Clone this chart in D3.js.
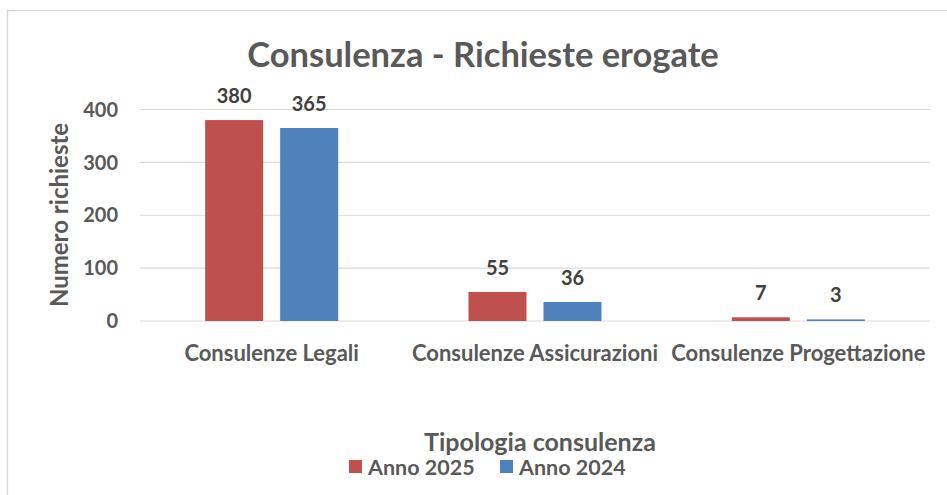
<!DOCTYPE html>
<html lang="it">
<head>
<meta charset="UTF-8">
<title>Consulenza - Richieste erogate</title>
<script src="https://d3js.org/d3.v7.min.js"></script>
<style>
    body { margin: 0; padding: 0; background: #fff; overflow: hidden; }
    text { font-family: Lato, "Open Sans", sans-serif; fill: #595959; }
</style>
</head>
<body>
<script>
    // dati
    const categories = ["Consulenze Legali", "Consulenze Assicurazioni", "Consulenze Progettazione"];
    const seriesNames = ["Anno 2025", "Anno 2024"];
    const anno2025 = [380, 55, 7];
    const anno2024 = [365, 36, 3];
    const yTicks = [0, 100, 200, 300, 400];
    const colors = ["#C0504D", "#4F81BD"];

    const width = 947, height = 495;
    const svg = d3.select("body").append("svg")
        .attr("width", width)
        .attr("height", height);

    // bordo del grafico
    svg.append("rect")
        .attr("x", 7.5).attr("y", 10.5)
        .attr("width", width + 10).attr("height", height + 10)
        .attr("fill", "none").attr("stroke", "#D9D9D9").attr("stroke-width", 1.5);

    const plot = { left: 140, right: 930, top: 109.5, bottom: 321 };

    const x = d3.scaleBand().domain(categories).range([plot.left, plot.right]);
    const y = d3.scaleLinear().domain([0, 400]).range([plot.bottom, plot.top]);
    const barW = 58, gap = 17;
    const x1 = d3.scaleOrdinal().domain(seriesNames)
        .range([-(barW + gap) / 2, (barW + gap) / 2]);

    // griglia
    svg.append("g").selectAll("line")
        .data(yTicks)
        .join("line")
        .attr("x1", plot.left).attr("x2", plot.right)
        .attr("y1", d => y(d)).attr("y2", d => y(d))
        .attr("stroke", "#D9D9D9").attr("stroke-width", 1.2);

    // etichette asse y
    svg.append("g").selectAll("text")
        .data(yTicks)
        .join("text")
        .attr("x", 118).attr("y", d => y(d))
        .attr("dy", "0.36em")
        .attr("text-anchor", "end")
        .attr("font-size", 20).attr("font-weight", "bold")
        .text(d => d);

    const data = categories.map((c, i) => ({
        cat: c,
        values: [
            { name: seriesNames[0], value: anno2025[i] },
            { name: seriesNames[1], value: anno2024[i] }
        ]
    }));

    const groups = svg.append("g").selectAll("g")
        .data(data)
        .join("g")
        .attr("transform", d => `translate(${x(d.cat) + x.bandwidth() / 2},0)`);

    groups.selectAll("rect")
        .data(d => d.values)
        .join("rect")
        .attr("x", d => x1(d.name) - barW / 2)
        .attr("y", d => y(d.value))
        .attr("width", barW)
        .attr("height", d => Math.max(y(0) - y(d.value), 1.5))
        .attr("fill", (d, i) => colors[i]);

    groups.selectAll("text")
        .data(d => d.values)
        .join("text")
        .attr("x", d => x1(d.name))
        .attr("y", d => y(d.value) - 17)
        .attr("text-anchor", "middle")
        .attr("font-size", 20).attr("font-weight", "bold")
        .style("fill", "#404040")
        .text(d => d.value);

    // etichette categorie
    svg.append("g").selectAll("text")
        .data(categories)
        .join("text")
        .attr("x", d => x(d) + x.bandwidth() / 2)
        .attr("y", 361)
        .attr("text-anchor", "middle")
        .attr("font-size", 22).attr("font-weight", "bold")
        .text(d => d);

    // titolo
    svg.append("text")
        .attr("x", 483).attr("y", 67)
        .attr("text-anchor", "middle")
        .attr("font-size", 34.5).attr("font-weight", "bold")
        .text("Consulenza - Richieste erogate");

    // titolo asse y
    svg.append("text")
        .attr("transform", "translate(68,215) rotate(-90)")
        .attr("text-anchor", "middle")
        .attr("font-size", 24).attr("font-weight", "bold")
        .text("Numero richieste");

    // titolo asse x
    svg.append("text")
        .attr("x", 540).attr("y", 451)
        .attr("text-anchor", "middle")
        .attr("font-size", 25).attr("font-weight", "bold")
        .text("Tipologia consulenza");

    // legenda
    const legendX = [349, 500];
    const legend = svg.append("g").selectAll("g")
        .data(seriesNames)
        .join("g")
        .attr("transform", (d, i) => `translate(${legendX[i]},460)`);
    legend.append("rect")
        .attr("width", 13).attr("height", 13)
        .attr("fill", (d, i) => colors[i]);
    legend.append("text")
        .attr("x", 19).attr("y", 7)
        .attr("dy", "0.36em")
        .attr("font-size", 21.5).attr("font-weight", "bold")
        .text(d => d);
</script>
</body>
</html>
